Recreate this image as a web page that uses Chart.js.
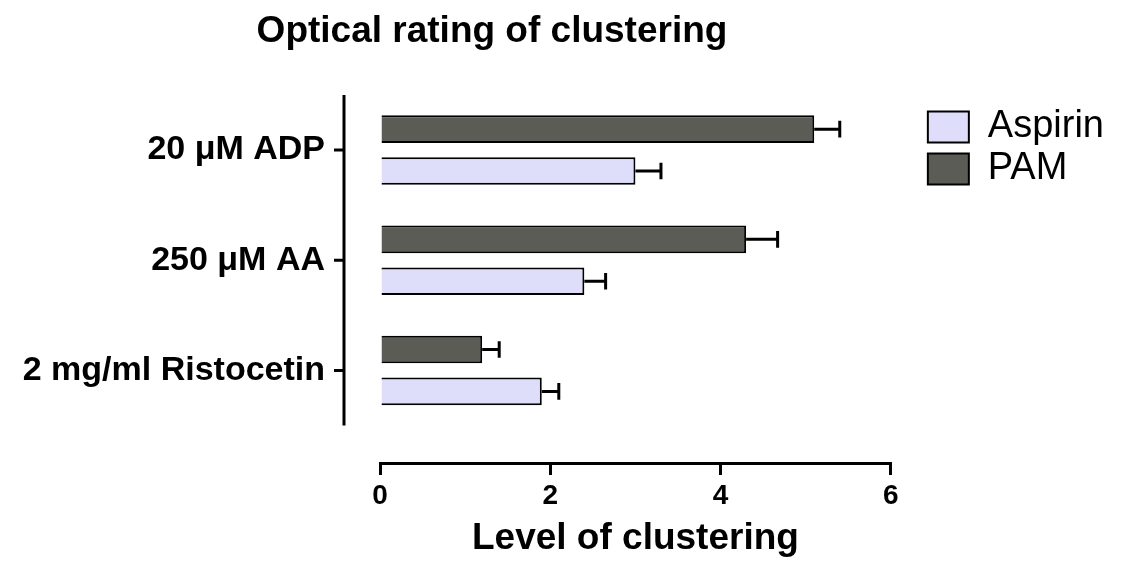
<!DOCTYPE html>
<html>
<head>
<meta charset="utf-8">
<title>Optical rating of clustering</title>
<script src="https://cdn.jsdelivr.net/npm/chart.js@4.4.1/dist/chart.umd.min.js"></script>
<style>
  html, body { margin: 0; padding: 0; background: #fff; }
  #wrap { width: 1122px; height: 561px; position: relative; }
</style>
</head>
<body>
<div id="wrap"><canvas id="chart"></canvas></div>
<script>
// Datos
const categories = ['20 μM ADP', '250 μM AA', '2 mg/ml Ristocetin'];
const seriesNames = ['PAM', 'Aspirin'];
const pamValues = [5.1, 4.3, 1.2];
const pamErrors = [0.3, 0.37, 0.2];
const aspirinValues = [3.0, 2.4, 1.9];
const aspirinErrors = [0.3, 0.25, 0.2];
const xTicks = [0, 2, 4, 6];

Chart.defaults.font.family = "'Liberation Sans', Arial, sans-serif";
Chart.defaults.color = '#000';

// barras de error y eje vertical separado
const extras = {
    id: 'extras',
    afterLayout(chart) {
        const t = chart.titleBlock;
        t.left = 0;
        t.right = chart.width - 138;
        const lg = chart.legend;
        lg.left += 33; lg.right += 33;
        lg.top += 9; lg.bottom += 9;
    },
    afterDatasetsDraw(chart) {
        const ctx = chart.ctx;
        const xs = chart.scales.x;
        chart.data.datasets.forEach(function(ds, di) {
            const meta = chart.getDatasetMeta(di);
            meta.data.forEach(function(bar, i) {
                const v = ds.data[i].x;
                const x0 = xs.getPixelForValue(v);
                const x1 = xs.getPixelForValue(v + ds.errors[i]);
                const half = bar.height * 0.3;
                ctx.save();
                ctx.strokeStyle = '#000';
                ctx.lineWidth = 3;
                ctx.beginPath();
                ctx.moveTo(x0, bar.y);
                ctx.lineTo(x1, bar.y);
                ctx.moveTo(x1, bar.y - half);
                ctx.lineTo(x1, bar.y + half);
                ctx.stroke();
                ctx.restore();
            });
        });
    },
    afterDraw(chart) {
        const ctx = chart.ctx;
        const ys = chart.scales.y;
        const ax = chart.chartArea.left - 36;
        ctx.save();
        ctx.strokeStyle = '#000';
        ctx.lineWidth = 3;
        ctx.beginPath();
        ctx.moveTo(ax, ys.getPixelForValue(-0.5));
        ctx.lineTo(ax, ys.getPixelForValue(categories.length - 0.5));
        ys.ticks.forEach(function(t) {
            const py = ys.getPixelForValue(t.value);
            ctx.moveTo(ax - 10, py);
            ctx.lineTo(ax, py);
        });
        ctx.stroke();
        ctx.restore();
    }
};

const ctx = document.getElementById('chart').getContext('2d');
new Chart(ctx, {
    type: 'bar',
    data: {
        datasets: [{
            label: seriesNames[0],
            data: pamValues.map(function(v, i) { return { x: v, y: i }; }),
            errors: pamErrors,
            backgroundColor: '#5B5C56',
            borderColor: '#000',
            borderWidth: 2
        }, {
            label: seriesNames[1],
            data: aspirinValues.map(function(v, i) { return { x: v, y: i }; }),
            errors: aspirinErrors,
            backgroundColor: '#DEDEFA',
            borderColor: '#000',
            borderWidth: 2
        }]
    },
    options: {
        indexAxis: 'y',
        responsive: true,
        maintainAspectRatio: false,
        animation: false,
        devicePixelRatio: 1,
        categoryPercentage: 0.76,
        barPercentage: 0.66,
        layout: { padding: { top: 0, bottom: 0, left: 0, right: 41 } },
        scales: {
            x: {
                type: 'linear',
                min: xTicks[0],
                max: xTicks[xTicks.length - 1],
                afterBuildTicks: function(s) { s.ticks = xTicks.map(function(v) { return { value: v }; }); },
                ticks: { font: { size: 28, weight: 'bold' }, padding: 4, color: '#000' },
                grid: { drawOnChartArea: false, color: '#000', lineWidth: 3, tickLength: 12 },
                border: { color: '#000', width: 3 },
                title: {
                    display: true,
                    text: 'Level of clustering',
                    font: { size: 37, weight: 'bold' },
                    color: '#000',
                    padding: { top: 0, bottom: 0 }
                }
            },
            y: {
                type: 'linear',
                reverse: true,
                offset: false,
                min: -0.5,
                max: 2.84,
                afterFit: function(s) { s.width = 380; },
                ticks: {
                    stepSize: 1,
                    includeBounds: false,
                    autoSkip: false,
                    padding: 55,
                    font: { size: 34, weight: 'bold' },
                    color: '#000',
                    callback: function(v) { return categories[v]; }
                },
                grid: { display: false, drawTicks: false, offset: false },
                border: { display: false }
            }
        },
        plugins: {
            title: {
                display: true,
                text: 'Optical rating of clustering',
                font: { size: 37, weight: 'bold' },
                color: '#000',
                padding: { top: 10, bottom: 40.6 }
            },
            legend: {
                position: 'right',
                align: 'start',
                fullSize: false,
                reverse: true,
                labels: {
                    boxWidth: 41,
                    boxHeight: 31,
                    padding: 4,
                    font: { size: 38 },
                    color: '#000'
                }
            },
            tooltip: { enabled: false }
        }
    },
    plugins: [extras]
});
</script>
</body>
</html>
